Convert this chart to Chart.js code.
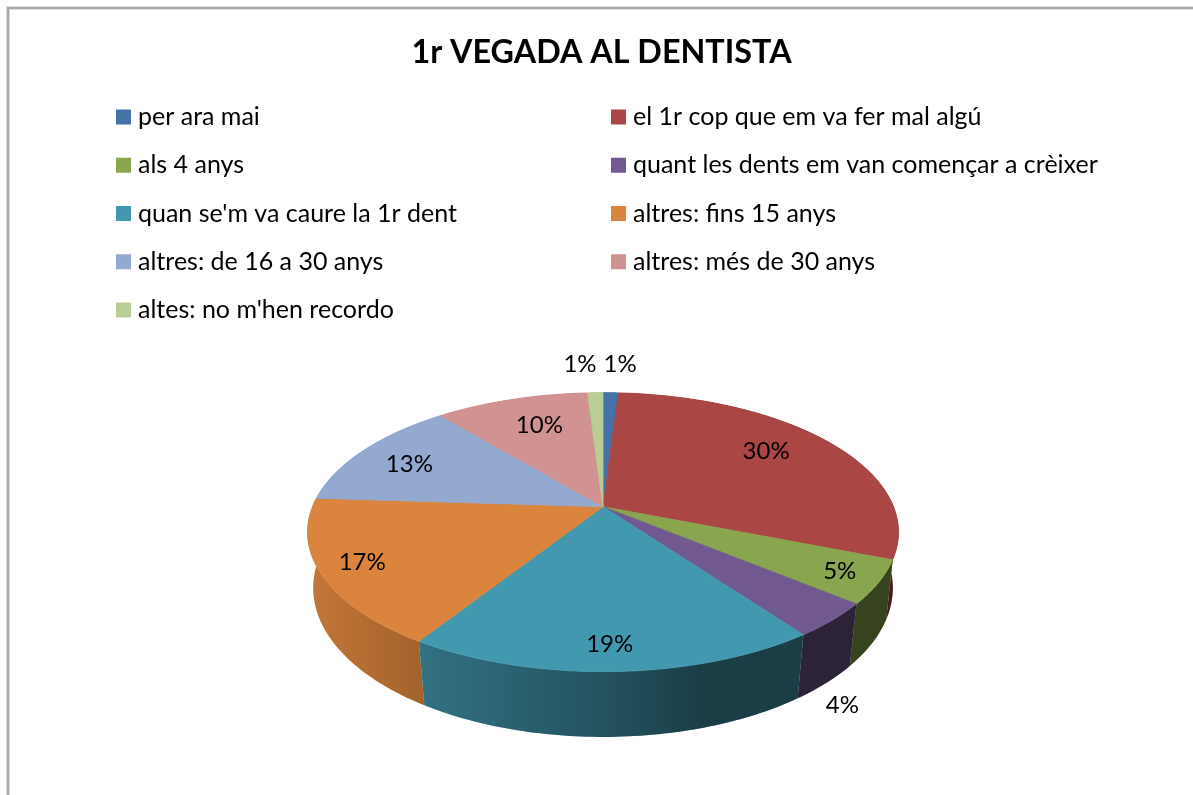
<!DOCTYPE html>
<html>
<head>
<meta charset="utf-8">
<title>1r VEGADA AL DENTISTA</title>
<script src="https://cdn.jsdelivr.net/npm/chart.js@4"></script>
<style>
    html, body { margin: 0; padding: 0; background: #fff; overflow: hidden; }
    canvas { display: block; }
</style>
</head>
<body>
<canvas id="pie" width="1193" height="795"></canvas>
<script>
// data
const categories = [
    'per ara mai',
    'el 1r cop que em va fer mal algú',
    'als 4 anys',
    'quant les dents em van començar a crèixer',
    "quan se'm va caure la 1r dent",
    'altres: fins 15 anys',
    'altres: de 16 a 30 anys',
    'altres: més de 30 anys',
    "altes: no m'hen recordo"
];
const percents = [1, 30, 5, 4, 19, 17, 13, 10, 1];
const sliceColors = ['#4573a7', '#aa4644', '#89a54e', '#71588f', '#4298af', '#db843d', '#93a9cf', '#d19392', '#b9cd96'];

// where the % labels sit, as a fraction of the radius, plus a small angle nudge in degrees
const labelRadius = [1.31, 0.75, 0.87, 1.33, 0.86, 0.86, 0.78, 0.72, 1.31];
const labelNudge = [1.4, -3.6, 0, 14, 0.5, 0.7, -2, 1.6, -2.5];

// perspective of the disc: top face and bottom rim
const TOP_RIM = { rx: 1, ry: 0.464, k: 0.183, dx: 1.5, dy: 0 };
const BOTTOM_RIM = { rx: 0.983, ry: 0.498, k: 0.17, dx: 1.5, dy: 56 };

const FONT = 'Lato, "Open Sans", sans-serif';

// angle is the canvas angle the arc element gives, r a fraction of the radius
function project(arc, angle, r, rim) {
    const u = r * Math.cos(angle);
    const v = r * Math.sin(angle);
    const w = 1 - rim.k * v;
    return {
        x: arc.x + rim.dx + arc.outerRadius * rim.rx * u / w,
        y: arc.y + rim.dy + arc.outerRadius * rim.ry * v / w
    };
}

function rimPoints(arc, rim) {
    const pts = [];
    const steps = Math.max(2, Math.ceil((arc.endAngle - arc.startAngle) / (Math.PI / 180)));
    for (let i = 0; i <= steps; i++) {
        pts.push(project(arc, arc.startAngle + (arc.endAngle - arc.startAngle) * i / steps, 1, rim));
    }
    return pts;
}

const pie3dPlugin = {
    id: 'pie3d',
    beforeDraw(chart) {
        // chart frame: only top and left edges are inside the picture
        const ctx = chart.ctx;
        ctx.save();
        ctx.fillStyle = '#dcdcdc';
        ctx.fillRect(6, 6, chart.width, 4);
        ctx.fillRect(6, 6, 4, chart.height);
        ctx.fillStyle = '#a8a8a8';
        ctx.fillRect(7, 7, chart.width, 2);
        ctx.fillRect(7, 7, 2, chart.height);
        ctx.restore();
    },
    beforeDatasetDraw(chart, args) {
        const ctx = chart.ctx;
        const arcs = args.meta.data;
        const first = arcs[0];

        // darker to the right, like the office 3d pie
        const shade = ctx.createLinearGradient(first.x - 296, 0, first.x + 296, 0);
        shade.addColorStop(0, 'rgba(0,0,0,0.10)');
        shade.addColorStop(0.19, 'rgba(0,0,0,0.25)');
        shade.addColorStop(0.53, 'rgba(0,0,0,0.48)');
        shade.addColorStop(0.67, 'rgba(0,0,0,0.60)');
        shade.addColorStop(1, 'rgba(0,0,0,0.60)');

        // walls first, back ones before front ones
        const order = arcs.map((a, i) => i).sort((a, b) =>
            Math.sin((arcs[a].startAngle + arcs[a].endAngle) / 2) - Math.sin((arcs[b].startAngle + arcs[b].endAngle) / 2));
        order.forEach(i => {
            const top = rimPoints(arcs[i], TOP_RIM);
            const bottom = rimPoints(arcs[i], BOTTOM_RIM).reverse();
            ctx.beginPath();
            top.concat(bottom).forEach((p, n) => n ? ctx.lineTo(p.x, p.y) : ctx.moveTo(p.x, p.y));
            ctx.closePath();
            ctx.fillStyle = arcs[i].options.backgroundColor;
            ctx.fill();
            ctx.fillStyle = shade;
            ctx.fill();
        });

        // top face, thin stroke in the same colour hides the seams between slices
        arcs.forEach(arc => {
            ctx.beginPath();
            ctx.moveTo(arc.x + TOP_RIM.dx, arc.y);
            rimPoints(arc, TOP_RIM).forEach(p => ctx.lineTo(p.x, p.y));
            ctx.closePath();
            ctx.fillStyle = arc.options.backgroundColor;
            ctx.strokeStyle = arc.options.backgroundColor;
            ctx.lineWidth = 0.8;
            ctx.lineJoin = 'round';
            ctx.fill();
            ctx.stroke();
        });
        return false; // the flat arcs are replaced by the faces above
    },
    afterDraw(chart) {
        const ctx = chart.ctx;
        const arcs = chart.getDatasetMeta(0).data;
        ctx.save();
        ctx.textBaseline = 'middle';
        ctx.textAlign = 'center';
        ctx.fillStyle = '#000';
        ctx.font = '24px ' + FONT;
        arcs.forEach((arc, i) => {
            const mid = (arc.startAngle + arc.endAngle) / 2 + labelNudge[i] * Math.PI / 180;
            const p = project(arc, mid, labelRadius[i], TOP_RIM);
            ctx.fillText(percents[i] + '%', p.x, p.y);
        });

        // legend in two columns, the built in one can not line them up
        ctx.textAlign = 'left';
        ctx.font = '25px ' + FONT;
        categories.forEach((label, i) => {
            const col = i % 2;
            const row = Math.floor(i / 2);
            const x = col ? 611 : 116;
            const y = 117 + row * 48.25;
            ctx.fillStyle = sliceColors[i];
            ctx.fillRect(x, y - 7.5, 15, 15);
            ctx.fillStyle = '#000';
            ctx.fillText(label, x + 22, y);
        });
        ctx.restore();
    }
};

new Chart(document.getElementById('pie'), {
    type: 'pie',
    data: {
        labels: categories,
        datasets: [{
            data: percents,
            backgroundColor: sliceColors,
            borderWidth: 0,
            radius: 290.5
        }]
    },
    options: {
        responsive: false,
        animation: false,
        layout: { padding: { left: 10 } },
        plugins: {
            legend: { display: false },
            tooltip: { enabled: false },
            title: {
                display: true,
                text: '1r VEGADA AL DENTISTA',
                color: '#000',
                font: { family: FONT, size: 32.3, weight: 'bold' },
                padding: { top: 33, bottom: 146.5 }
            }
        }
    },
    plugins: [pie3dPlugin]
});
</script>
</body>
</html>
